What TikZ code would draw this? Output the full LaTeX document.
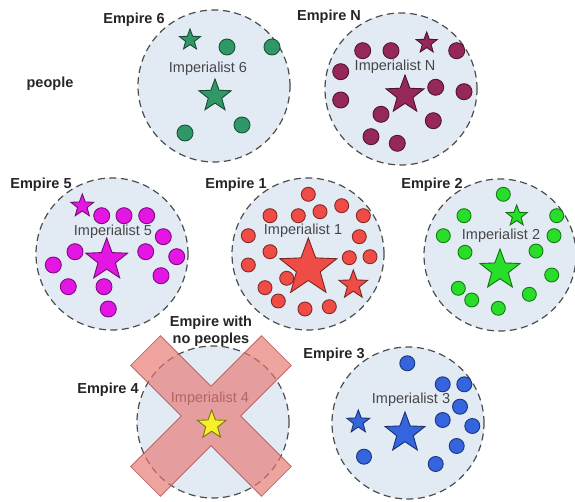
\documentclass[tikz,border=0pt]{standalone}
\usepackage{fontspec}
\setmainfont{Liberation Sans}
\usetikzlibrary{shapes.geometric}
\definecolor{empfill}{RGB}{226,234,244}
\definecolor{cSix}{RGB}{48,152,102}
\definecolor{cN}{RGB}{150,40,88}
\definecolor{cFive}{RGB}{228,22,228}
\definecolor{cOne}{RGB}{240,76,70}
\definecolor{cTwo}{RGB}{40,222,40}
\definecolor{cThree}{RGB}{52,100,222}
\definecolor{cFour}{RGB}{246,240,40}
\definecolor{xfill}{RGB}{232,118,112}
\definecolor{xdraw}{RGB}{180,80,80}
\tikzset{
  emp/.style={circle, draw=black!70, dash pattern=on 7pt off 4.5pt, line width=1.2pt, fill=empfill, minimum size=152pt, inner sep=0pt},
  ppl/.style 2 args={circle, draw=#1!55!black, fill=#1, line width=0.9pt, minimum size=#2, inner sep=0pt},
  imp/.style 2 args={star, star points=5, star point ratio=2.4, draw=#1!50!black, fill=#1, line width=0.9pt, minimum size=#2, inner sep=0pt},
  lab/.style={font=\bfseries\fontsize{14.5}{17}\selectfont, text=black!85, inner sep=0pt},
  implab/.style={font=\fontsize{14.5}{17}\selectfont, text=black!72, inner sep=0pt},
  xshape/.style={draw=xdraw, fill=xfill, fill opacity=0.66, draw opacity=0.8, line width=0.8pt, line join=miter},
}
\begin{document}
\begin{tikzpicture}[x=1pt,y=-1pt]
\useasboundingbox (0,0) rectangle (575,502);
\fill[white] (0,0) rectangle (575,502);
% empires
\node[emp] (e6) at (214,86) {};
\node[emp] (eN) at (401,89) {};
\node[emp] (e5) at (112,254) {};
\node[emp] (e1) at (308,254) {};
\node[emp] (e2) at (500,255) {};
\node[emp] (e4) at (213,422) {};
\node[emp] (e3) at (408,423) {};
% labels
\node[lab] (l6) at (134,20) {Empire 6};
\node[lab] (lp) at (50,84) {people};
\node[lab] (lN) at (329,17) {Empire N};
\node[lab] (l5) at (41,185) {Empire 5};
\node[lab] (l1) at (236,185) {Empire 1};
\node[lab] (l2) at (432,185) {Empire 2};
\node[lab, align=center] (lw) at (211,331) {Empire with\\no peoples};
\node[lab] (l4) at (108,390) {Empire 4};
\node[lab] (l3) at (334,355) {Empire 3};
% imperialist labels
\node[implab] (i6) at (208,69) {Imperialist 6};
\node[implab] (iN) at (395,67) {Imperialist N};
\node[implab] (i5) at (113,232) {Imperialist 5};
\node[implab] (i1) at (303,231) {Imperialist 1};
\node[implab] (i2) at (501,236) {Imperialist 2};
\node[implab] (i3) at (411,400) {Imperialist 3};
\node[implab] (i4) at (210,399) {Imperialist 4};
% people of empire 6
\foreach \x/\y [count=\k] in {227/47,272/47,185/133,242/125}
  \node[ppl={cSix}{16pt}] (p6\k) at (\x,\y) {};
\node[imp={cSix}{34pt}] (s6) at (215,96) {};
\node[imp={cSix}{22pt}] (t6) at (190,40) {};
% empire N
\foreach \x/\y [count=\k] in {362.7/50.7,391/50.7,456.7/50.7,340.7/71.7,340.7/100,435.7/87.3,464/91.7,381/114.3,433.3/120.7,371/136.7,397.3/143.3}
  \node[ppl={cN}{16pt}] (pN\k) at (\x,\y) {};
\node[imp={cN}{40pt}] (sN) at (405,95) {};
\node[imp={cN}{22pt}] (tN) at (426.7,43) {};
% empire 5
\foreach \x/\y [count=\k] in {101.7/215.7,124/215.7,146.7/215.7,163.3/236.7,75/251.7,145.7/251.7,176.7/256.7,53.3/265,161/275.7,68.3/286.7,104/286.7,108.3/309}
  \node[ppl={cFive}{16pt}] (p5\k) at (\x,\y) {};
\node[imp={cFive}{44pt}] (s5) at (106.7,260) {};
\node[imp={cFive}{24pt}] (t5) at (82.3,206) {};
% empire 1
\foreach \x/\y [count=\k] in {308.3/194.3,270/215.7,298.3/215.7,320/211.7,341.7/205.7,363.3/215.7,248.3/235.7,359.3/236.7,270/251.7,349.3/257.7,370/256.7,248.3/265,286.7/278.3,265/287.7,278.3/301,305/309,329.3/306.7}
  \node[ppl={cOne}{14pt}] (p1\k) at (\x,\y) {};
\node[imp={cOne}{60pt}] (s1) at (308.3,268) {};
\node[imp={cOne}{30pt}] (t1) at (353.3,285) {};
% empire 2
\foreach \x/\y [count=\k] in {503.3/194.3,464/215.7,556.7/215.7,443.3/235.7,554/235.7,465/252.3,536/251,551.7/275,458.3/288.3,471.7/300,529.3/294.3,498.3/308.3}
  \node[ppl={cTwo}{14pt}] (p2\k) at (\x,\y) {};
\node[imp={cTwo}{42pt}] (s2) at (500,270) {};
\node[imp={cTwo}{22pt}] (t2) at (516.7,216) {};
% empire 3
\foreach \x/\y [count=\k] in {407.3/363.3,442.7/384.3,464.3/384.3,460/406.7,442.7/420,472.3/426,456.7/446,364/456.7,435.7/464}
  \node[ppl={cThree}{15pt}] (p3\k) at (\x,\y) {};
\node[imp={cThree}{42pt}] (s3) at (405,433) {};
\node[imp={cThree}{24pt}] (t3) at (358.3,422) {};
% empire 4: cross
\coordinate (xc) at (211,416);
\draw[xshape, shift={(xc)}]
  (80.26,50.56) -- (50.56,80.26) -- (0,29.7) -- (-50.56,80.26) -- (-80.26,50.56)
  -- (-29.7,0) -- (-80.26,-50.56) -- (-50.56,-80.26) -- (0,-29.7)
  -- (50.56,-80.26) -- (80.26,-50.56) -- (29.7,0) -- cycle;
\node[imp={cFour}{30pt}] (s4) at (211.7,425) {};
\end{tikzpicture}
\end{document}
